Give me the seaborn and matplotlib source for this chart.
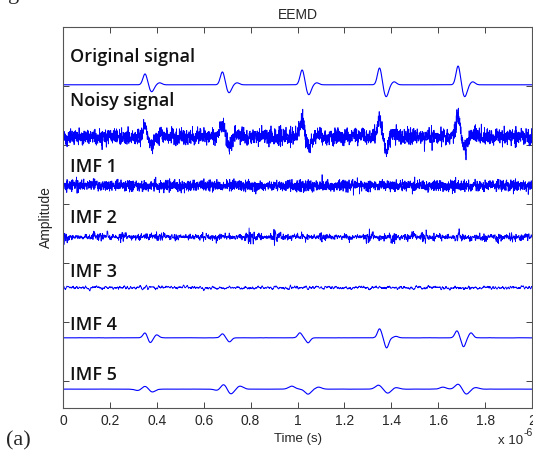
import numpy as np
import pandas as pd
import matplotlib as mpl
mpl.use('Agg')
import matplotlib.pyplot as plt
import seaborn as sns

# ── Data (times in 1e-6 s, amplitudes in pixels) ──
PX = 59.0  # pixels per y unit in the reference

row_names = ['Original signal', 'Noisy signal', 'IMF 1', 'IMF 2',
             'IMF 3', 'IMF 4', 'IMF 5']
row_base = [5.02, 4.14, 3.31, 2.44, 1.58, 0.73, -0.14]
label_y = [5.49, 4.75, 3.63, 2.76, 1.85, 0.95, 0.10]

# original signal: wavelet (peak, trough, bump) per pulse
pulse_t = [0.35, 0.68, 1.02, 1.35, 1.685]
pulse_peak = [11, 13, 15, 17, 19]
pulse_trough = [7, 8, 10, 12, 12]
pulse_bump = [2, 2, 2, 3, 3]

# IMF 4 lobes
imf4_t = [0.35, 0.372, 0.40, 0.68, 0.71, 1.01, 1.045, 1.35, 1.38, 1.42,
          1.68, 1.708, 1.74]
imf4_a = [5, -5, 3, 4, -4, 5, -5, 9, -10, 1.5, 7, -9, 5]

# IMF 5 lobes
imf5_t = [0.32, 0.35, 0.38, 0.66, 0.685, 0.715, 0.755, 0.975, 1.045, 1.09,
          1.345, 1.385, 1.42, 1.62, 1.685, 1.72, 1.76]
imf5_a = [-1.5, 3, -3, -1.5, 5, -5, 3, 3, -5, 2, 4, -4, 1.5, 2, 5, -5, 1.5]

# noise level per row (pixels, std)
noise_noisy = 4.0
noise_imf1 = 2.7
noise_imf2 = 1.5
noise_imf3 = 0.9

xtick_vals = [0, 0.2, 0.4, 0.6, 0.8, 1.0, 1.2, 1.4, 1.6, 1.8, 2.0]
xtick_labels = ['0', '0.2', '0.4', '0.6', '0.8', '1', '1.2', '1.4',
                '1.6', '1.8', '2']

N = 3000
t = np.linspace(0, 2, N)
rng = np.random.default_rng(7)


def lobes(times, amps, sigma):
    y = np.zeros_like(t)
    for c, a in zip(times, amps):
        y += a * np.exp(-0.5 * ((t - c) / sigma) ** 2)
    return y


orig = np.zeros_like(t)
for c, p, tr, b in zip(pulse_t, pulse_peak, pulse_trough, pulse_bump):
    orig += p * np.exp(-0.5 * ((t - c) / 0.009) ** 2)
    orig -= tr * np.exp(-0.5 * ((t - c - 0.028) / 0.010) ** 2)
    orig += b * np.exp(-0.5 * ((t - c - 0.062) / 0.010) ** 2)


def smooth(x, k):
    return np.convolve(x, np.ones(k) / k, mode='same')


noisy = 1.1 * orig + noise_noisy * rng.standard_normal(N)
imf1 = noise_imf1 * rng.standard_normal(N)
env2 = 0.6 + 0.8 * np.abs(smooth(rng.standard_normal(N), 40)) * 6
imf2 = noise_imf2 * env2 * smooth(rng.standard_normal(N), 3) * 1.6
imf3 = noise_imf3 * smooth(rng.standard_normal(N), 9) * 2.8
imf4 = lobes(imf4_t, imf4_a, 0.009) + 0.15 * smooth(rng.standard_normal(N), 15)
imf5 = lobes(imf5_t, imf5_a, 0.013) + 0.15 * smooth(rng.standard_normal(N), 25)

series = [orig, noisy, imf1, imf2, imf3, imf4, imf5]
widths = [0.8, 0.6, 0.6, 0.6, 0.6, 0.8, 0.8]

# ── Plot ─────────────────────────────────────────────────────────────────
sns.set_style('ticks')
plt.rcParams['font.family'] = ['Liberation Sans', 'DejaVu Sans']

fig = plt.figure(figsize=(5.33, 4.57), dpi=100)
ax = fig.add_axes([63 / 533, 1 - 408 / 457, 469 / 533, 381 / 457])

for name, base, y, lw in zip(row_names, row_base, series, widths):
    df = pd.DataFrame({'t': t, 'y': base + y / PX})
    sns.lineplot(data=df, x='t', y='y', color='#0000ff', linewidth=lw,
                 estimator=None, sort=False, ax=ax)

for name, ly in zip(row_names, label_y):
    ax.text(0.03, ly, name, fontsize=13, fontweight='semibold',
            family=['Open Sans', 'DejaVu Sans'], va='center', ha='left',
            color='#111111')

ax.set_xlim(0, 2)
ax.set_ylim(-0.46, 6.0)
ax.set_xticks(xtick_vals)
ax.set_xticklabels(xtick_labels)
ax.set_yticks([0, 1, 2, 3, 4, 5, 6])
ax.set_yticklabels([])
ax.tick_params(direction='in', length=4, width=0.6, top=True, right=True,
               labelsize=10, colors='#262626', pad=4)
for s in ax.spines.values():
    s.set_visible(True)
    s.set_linewidth(0.8)
    s.set_color('#555555')

ax.set_xlabel('Time (s)', fontsize=9.5, labelpad=4)
ax.set_ylabel('Amplitude', fontsize=10)
ax.yaxis.set_label_coords(-0.021, 0.5)
ax.set_title('EEMD', fontsize=10, pad=6)

# axis multiplier, written the way the reference shows it
fig.text(498 / 533, 1 - 441 / 457, 'x 10', fontsize=9.5,
         va='center', ha='left')
fig.text(523.5 / 533, 1 - 433 / 457, '-6', fontsize=7.5,
         va='center', ha='left')
fig.text(6 / 533, 1 - 441 / 457, '(a)', fontsize=16, va='center', ha='left',
         family=['Liberation Serif'])
fig.text(8 / 533, 1 + 1 / 457, 'g', fontsize=16, va='baseline', ha='left',
         family=['Liberation Serif'])

fig.savefig('out.png', dpi=100)
